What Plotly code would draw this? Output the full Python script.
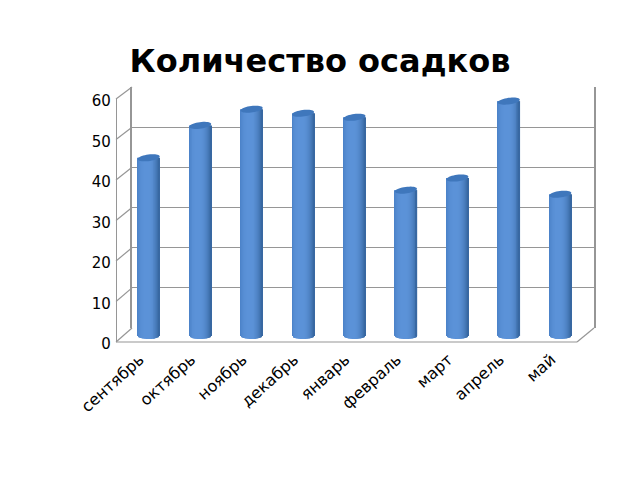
"""Количество осадков: 3D-style cylinder columns on a box with slanted walls."""
import numpy as np
import plotly.graph_objects as go

# ── Data ────────────────────────────────────────────────────────────────
months = ["сентябрь", "октябрь", "ноябрь", "декабрь", "январь",
          "февраль", "март", "апрель", "май"]
rainfall = [44, 52, 56, 55, 54, 36, 39, 58, 35]
y_ticks = [0, 10, 20, 30, 40, 50, 60]

W, H = 640, 480
BODY = 8  # page margin of the html body, the figure starts here
GRID = "#969696"
FONT = "DejaVu Sans"


def px_x(p):
    return (p - BODY) / W


def px_y(p):
    return 1 - (p - BODY) / H


# pixel geometry of the box
back_left, back_right, back_bottom, back_top = 132, 594, 328, 87
front_left, front_right, front_bottom, front_top = 116, 577, 342, 99
bar_left, bar_right = 123, 586
bar_bottom_px, bar_top_px = 342, 93
bar_min = -1.5
label_shift = 9

back_scale = (back_bottom - back_top) / 60
front_scale = (front_bottom - front_top) / 60

fig = go.Figure()

# ── Wall subplot (drawn first, so columns sit on top of it) ─────────────
fig.add_trace(go.Scatter(x=[None], y=[None], xaxis="x", yaxis="y",
                         showlegend=False, hoverinfo="skip"))

# ── Cylinders: narrow overlaid strips make up the shading ───────────────
n_strips = 23
col_width = 22 / (bar_right - bar_left) * 9
strip = col_width / n_strips
dip = 3 / ((bar_bottom_px - bar_top_px) / (60 - bar_min))


def shade(u):
    # u from -1 (left edge) to 1 (right edge)
    light = np.array([92, 147, 217])
    left = np.array([60, 114, 184])
    right = np.array([56, 104, 162])
    t = abs(u + 0.15) / 1.15
    edge = left if u < -0.15 else right
    c = light + (edge - light) * min(t, 1) ** 2.5
    return "rgb(%d,%d,%d)" % tuple(c)


for u in np.linspace(-1, 1, n_strips):
    base = -dip * np.sqrt(max(0, 1 - u * u))
    fig.add_trace(go.Bar(
        x=list(range(len(months))),
        y=[v - base for v in rainfall],
        base=base,
        width=strip * 1.25,
        offset=u * (col_width - strip) / 2 - strip / 2,
        marker=dict(color=shade(u), line=dict(width=0)),
        xaxis="x2", yaxis="y2",
        showlegend=False, hoverinfo="skip",
    ))

# front axes only carry the labels
fig.add_trace(go.Scatter(x=[None], y=[None], xaxis="x3", yaxis="y3",
                         showlegend=False, hoverinfo="skip"))

# ── Shapes: slanted wall edges, floor and column tops ───────────────────
shapes = []


def edge(x0, y0, x1, y1):
    shapes.append(dict(type="line", xref="paper", yref="paper",
                       x0=px_x(x0), y0=px_y(y0), x1=px_x(x1), y1=px_y(y1),
                       line=dict(color=GRID, width=1.2), layer="below"))


for v in y_ticks:
    edge(front_left, front_bottom - v * front_scale,
         back_left, back_bottom - v * back_scale)
edge(front_left, front_bottom, front_right, front_bottom)
edge(front_right, front_bottom, back_right, back_bottom)

theta = np.linspace(0, 2 * np.pi, 40)
for i, v in enumerate(rainfall):
    ex = i + col_width / 2 * np.cos(theta)
    # slightly tilted top: right side higher than left
    ey = v + dip * 1.1 * np.sin(theta) + dip * 0.45 * np.cos(theta)
    path = "M " + " L ".join(f"{a:.4f},{b:.4f}" for a, b in zip(ex, ey)) + " Z"
    shapes.append(dict(type="path", path=path, xref="x2", yref="y2",
                       fillcolor="#3f77bc", line=dict(width=0), layer="above"))

# ── Layout ──────────────────────────────────────────────────────────────
fig.update_layout(
    width=W, height=H,
    margin=dict(l=0, r=0, t=0, b=0, autoexpand=False),
    paper_bgcolor="white", plot_bgcolor="rgba(0,0,0,0)",
    barmode="overlay",
    showlegend=False,
    font=dict(family=FONT, size=14, color="black"),
    title=dict(text="<b>Количество осадков</b>",
               x=px_x(320), xanchor="center",
               y=px_y(61), yanchor="middle",
               font=dict(family=FONT, size=32, color="black")),
    shapes=shapes,
    # back wall
    xaxis=dict(domain=[px_x(back_left), px_x(back_right)], range=[0, 1],
               showticklabels=False, showgrid=False, zeroline=False,
               automargin=False),
    yaxis=dict(domain=[px_y(back_bottom), px_y(back_top)], range=[0, 60],
               tickvals=y_ticks[:-1], showticklabels=False,
               gridcolor=GRID, gridwidth=1.2, zeroline=False,
               showline=True, mirror=True, linecolor=GRID, linewidth=1.5,
               automargin=False),
    # columns
    xaxis2=dict(domain=[px_x(bar_left), px_x(bar_right)], range=[-0.5, 8.5],
                anchor="y2", showticklabels=False,
                showgrid=False, zeroline=False, showline=False,
                automargin=False),
    yaxis2=dict(domain=[px_y(bar_bottom_px), px_y(bar_top_px)],
                range=[bar_min, 60], anchor="x2", visible=False,
                automargin=False),
    # month labels, nudged left of the columns because of the perspective
    xaxis3=dict(domain=[px_x(bar_left - label_shift), px_x(bar_right - label_shift)],
                range=[-0.5, 8.5], anchor="free", position=px_y(front_bottom),
                tickmode="array",
                tickvals=list(range(len(months))), ticktext=months,
                tickangle=-42, ticks="outside", ticklen=1,
                tickcolor="rgba(0,0,0,0)", tickfont=dict(size=16),
                showgrid=False, zeroline=False, showline=False,
                automargin=False),
    # front edge with value labels
    yaxis3=dict(domain=[px_y(front_bottom), px_y(front_top)], range=[0, 60],
                anchor="free", position=px_x(front_left),
                tickvals=y_ticks, ticks="outside", ticklen=2,
                tickcolor="rgba(0,0,0,0)", tickfont=dict(size=15),
                ticklabelshift=2,
                showgrid=False, zeroline=False,
                showline=True, linecolor=GRID, linewidth=1.2,
                automargin=False),
)

fig.write_html("out.html")
